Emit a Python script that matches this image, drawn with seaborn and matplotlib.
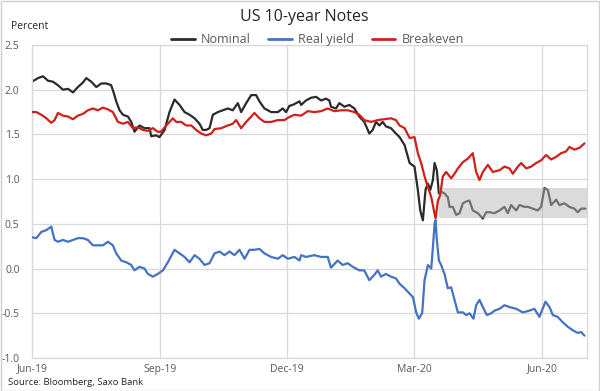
import matplotlib
matplotlib.use("Agg")
import matplotlib.pyplot as plt
import matplotlib.dates as mdates
from matplotlib.lines import Line2D
from matplotlib.patches import Rectangle
import seaborn as sns
import pandas as pd
import numpy as np

# ---- data (days since 2019-06-01, percent) ----
nominal_days = [0, 4.3, 7.9, 11.5, 15.0, 18.6, 22.2, 25.8, 29.4, 32.9, 36.5, 38.9, 42.5, 46.1, 49.7,
                53.3, 56.8, 58.7, 60.4, 62.8, 65.2, 68.8, 71.2, 73.5, 77.1, 80.7, 84.3, 85.5, 89.0,
                91.4, 95.1, 98.6, 102.2, 105.8, 109.4, 113.0, 116.6, 120.1, 122.5, 124.9, 127.3,
                129.7, 133.3, 136.9, 140.4, 144.0, 147.6, 150.0, 153.6, 157.2, 160.7, 163.1, 166.7,
                171.5, 176.3, 179.8, 182.2, 184.6, 187.0, 191.8, 193.0, 196.5, 200.1, 203.7, 207.3,
                210.9, 213.2, 214.4, 218.0, 220.4, 224.0, 227.6, 231.2, 234.7, 238.3, 241.9, 244.3,
                246.7, 249.1, 251.5, 253.8, 257.4, 261.0, 263.6, 267.2, 270.8, 274.3, 276.7, 278.4,
                280.3, 282.2, 283.9, 285.6, 287.5, 288.7, 290.3, 291.8, 293.4, 295.8, 298.2, 299.4,
                301.8, 304.2, 306.6, 309.0, 311.4, 313.7, 316.1, 319.7, 323.3, 325.7, 328.1, 331.7,
                335.3, 338.8, 341.2, 343.6, 347.2, 349.6, 353.2, 355.6, 359.1, 362.7, 365.1, 367.5,
                369.9, 372.3, 375.9, 378.2, 381.8, 385.4, 389.0, 391.4, 393.8, 396.9]
nominal_vals = [2.09, 2.13, 2.15, 2.10, 2.09, 2.05, 2.00, 2.01, 1.97, 2.03, 2.08, 2.13, 2.09, 2.03, 2.07,
                2.07, 2.05, 1.96, 1.87, 1.77, 1.72, 1.70, 1.64, 1.53, 1.60, 1.57, 1.57, 1.48, 1.49,
                1.47, 1.55, 1.75, 1.89, 1.83, 1.75, 1.72, 1.68, 1.62, 1.55, 1.55, 1.57,
                1.72, 1.75, 1.77, 1.79, 1.77, 1.85, 1.75, 1.85, 1.94, 1.94, 1.87, 1.79,
                1.75, 1.75, 1.79, 1.75, 1.82, 1.83, 1.87, 1.83, 1.88, 1.91, 1.92, 1.88,
                1.90, 1.88, 1.81, 1.79, 1.85, 1.81, 1.83, 1.79, 1.70, 1.64, 1.51, 1.55,
                1.64, 1.60, 1.64, 1.59, 1.57, 1.51, 1.47, 1.38, 1.18, 1.14, 0.88, 0.65,
                0.54, 0.88, 0.95, 0.88, 0.99, 1.18, 1.10, 0.84, 0.86, 0.84, 0.80, 0.69,
                0.69, 0.60, 0.62, 0.73, 0.75, 0.76, 0.65, 0.62, 0.56, 0.63, 0.63, 0.62,
                0.65, 0.69, 0.62, 0.71, 0.65, 0.71, 0.69, 0.69, 0.67, 0.65, 0.69, 0.90,
                0.88, 0.71, 0.77, 0.71, 0.73, 0.69, 0.67, 0.63, 0.67, 0.67]

real_days = [0, 3.1, 6.7, 10.3, 13.8, 16.2, 18.6, 22.2, 25.8, 29.4, 32.9, 36.5, 40.1, 43.7, 47.3,
             50.9, 54.4, 58.0, 60.4, 64.0, 67.6, 71.2, 73.5, 77.1, 80.7, 83.1, 86.7, 90.2, 93.9,
             97.4, 102.2, 105.8, 109.4, 113.0, 116.6, 120.1, 123.7, 127.3, 130.9, 134.5, 138.1,
             141.6, 145.2, 148.8, 152.4, 156.0, 159.5, 163.1, 166.7, 171.5, 176.3, 179.8, 183.4,
             188.2, 191.8, 193.0, 196.5, 202.5, 207.3, 212.1, 214.4, 219.2, 222.8, 226.4, 230.0,
             234.7, 238.3, 241.9, 245.5, 247.9, 250.3, 253.8, 257.4, 261.0, 263.6, 267.2, 270.8,
             273.2, 275.5, 277.4, 279.8, 281.5, 283.9, 286.3, 287.5, 288.7, 289.4, 290.3, 291.8,
             293.4, 295.8, 298.2, 300.6, 303.0, 305.4, 309.0, 311.4, 313.7, 316.6, 318.5, 320.9,
             323.3, 326.2, 329.3, 331.7, 335.3, 338.8, 342.4, 347.2, 352.0, 356.8, 360.3, 363.9,
             368.2, 371.1, 373.5, 377.0, 380.6, 384.2, 387.8, 391.4, 393.8, 396.2]
real_vals = [0.35, 0.34, 0.41, 0.43, 0.47, 0.32, 0.30, 0.32, 0.30, 0.32, 0.34, 0.34, 0.32, 0.26, 0.26,
             0.26, 0.30, 0.26, 0.17, 0.09, 0.07, 0.04, -0.02, 0.02, 0.00, -0.06, -0.09, -0.06, -0.02,
             0.07, 0.21, 0.17, 0.13, 0.07, 0.15, 0.11, 0.04, 0.06, 0.17, 0.19, 0.15,
             0.19, 0.15, 0.21, 0.11, 0.21, 0.21, 0.22, 0.17, 0.13, 0.11, 0.15, 0.11,
             0.13, 0.09, 0.15, 0.13, 0.15, 0.13, 0.13, 0.01, 0.09, 0.04, 0.06, 0.02,
             -0.02, -0.02, -0.13, -0.07, -0.02, -0.09, -0.06, -0.09, -0.11, -0.17, -0.22, -0.28,
             -0.32, -0.49, -0.56, -0.50, -0.13, 0.04, 0.00, 0.24, 0.50, 0.54, 0.32, 0.09,
             0.04, -0.06, -0.22, -0.21, -0.35, -0.49, -0.49, -0.52, -0.50, -0.56, -0.41, -0.35,
             -0.43, -0.52, -0.50, -0.47, -0.45, -0.41, -0.43, -0.45, -0.49, -0.47, -0.45, -0.54,
             -0.37, -0.43, -0.52, -0.54, -0.60, -0.65, -0.69, -0.72, -0.71, -0.75]

breakeven_days = [0, 3.1, 6.7, 10.3, 13.8, 16.2, 18.6, 22.2, 25.8, 29.4, 32.9, 36.5, 40.1, 43.7, 47.3,
                  50.9, 54.4, 58.0, 61.6, 65.2, 68.8, 72.3, 75.9, 79.5, 83.1, 86.7, 90.2, 92.6, 96.3,
                  101.0, 103.4, 107.0, 110.6, 114.2, 117.8, 121.3, 124.9, 128.5, 130.9, 135.7, 140.4,
                  144.0, 146.4, 150.0, 153.6, 157.2, 159.5, 163.1, 166.7, 171.5, 176.3, 181.0, 184.0,
                  188.2, 193.0, 197.7, 202.5, 207.3, 212.1, 216.8, 221.6, 226.4, 231.2, 234.7, 238.3,
                  243.1, 247.9, 252.6, 257.4, 261.0, 263.6, 267.2, 270.8, 274.3, 276.7, 279.1, 281.5,
                  283.9, 286.3, 288.2, 289.4, 291.1, 292.7, 294.6, 297.0, 300.6, 303.0, 305.4, 309.0,
                  312.6, 316.1, 318.5, 320.9, 323.3, 326.9, 330.5, 335.3, 338.8, 342.4, 344.8, 348.4,
                  350.8, 354.4, 357.9, 361.5, 365.1, 368.7, 372.3, 375.9, 379.4, 383.0, 385.4, 389.0,
                  392.6, 396.2]
breakeven_vals = [1.75, 1.75, 1.72, 1.68, 1.63, 1.66, 1.74, 1.71, 1.70, 1.67, 1.71, 1.73, 1.77, 1.79, 1.77,
                  1.80, 1.78, 1.75, 1.64, 1.62, 1.64, 1.57, 1.58, 1.55, 1.54, 1.57, 1.53, 1.53, 1.60,
                  1.68, 1.64, 1.64, 1.60, 1.60, 1.55, 1.51, 1.49, 1.51, 1.56, 1.57, 1.60,
                  1.62, 1.66, 1.57, 1.64, 1.70, 1.74, 1.68, 1.64, 1.64, 1.66, 1.66, 1.69,
                  1.72, 1.71, 1.76, 1.75, 1.76, 1.79, 1.76, 1.77, 1.77, 1.75, 1.72, 1.66,
                  1.64, 1.66, 1.67, 1.68, 1.66, 1.60, 1.57, 1.46, 1.47, 1.29, 1.18, 1.03,
                  0.91, 0.80, 0.65, 0.56, 0.76, 0.82, 1.03, 1.08, 1.01, 1.06, 1.12, 1.19,
                  1.23, 1.29, 1.08, 0.99, 1.08, 1.16, 1.08, 1.10, 1.14, 1.12, 1.06, 1.14,
                  1.18, 1.12, 1.14, 1.18, 1.21, 1.27, 1.22, 1.25, 1.29, 1.31, 1.36, 1.33,
                  1.35, 1.40]

series_names = ["Nominal", "Real yield", "Breakeven"]
series_colors = ["#2b2b2b", "#4472C4", "#D0201A"]
tick_months = ["2019-06-01", "2019-09-01", "2019-12-01", "2020-03-01", "2020-06-01"]
tick_labels = ["Jun-19", "Sep-19", "Dec-19", "Mar-20", "Jun-20"]
y_ticks = [-1.0, -0.5, 0.0, 0.5, 1.0, 1.5, 2.0, 2.5]
band_start, band_end = "2020-03-19", "2020-07-03"
band_low, band_high = 0.57, 0.90

base = pd.Timestamp("2019-06-01")
def to_df(days, vals, name):
    return pd.DataFrame({"date": base + pd.to_timedelta(days, unit="D"), "value": vals, "series": name})

frames = [to_df(nominal_days, nominal_vals, "Nominal"),
          to_df(real_days, real_vals, "Real yield"),
          to_df(breakeven_days, breakeven_vals, "Breakeven")]

sns.set_theme(style="white")
plt.rcParams["font.family"] = ["Open Sans", "DejaVu Sans"]
plt.rcParams["axes.unicode_minus"] = False

fig = plt.figure(figsize=(6.0, 3.91), dpi=100)
ax = fig.add_axes([32/600, 1-358/391, (587-32)/600, (358-45)/391])

zorders = [2, 4, 4]
for df, color, z in zip(frames, series_colors, zorders):
    sns.lineplot(data=df, x="date", y="value", color=color, linewidth=1.6, ax=ax, zorder=z, legend=False)

x0 = mdates.date2num(pd.Timestamp(band_start))
x1 = mdates.date2num(pd.Timestamp(band_end))
ax.add_patch(Rectangle((x0, band_low), x1 - x0, band_high - band_low,
                       facecolor="#b8b8b8", alpha=0.5, edgecolor="none", zorder=3))

ax.set_xlim(pd.Timestamp("2019-06-01"), pd.Timestamp("2020-07-03"))
ax.set_ylim(-1.0, 2.5)
ax.set_yticks(y_ticks)
ax.set_yticklabels([f"{v:.1f}" for v in y_ticks])
ax.set_xticks([pd.Timestamp(t) for t in tick_months])
ax.set_xticklabels(tick_labels)
ax.set_xlabel("")
ax.set_ylabel("")
ax.grid(True, color="#d9d9d9", linewidth=0.9)
ax.set_axisbelow(True)
for s in ax.spines.values():
    s.set_color("#d9d9d9")
    s.set_linewidth(0.9)
ax.tick_params(axis="both", length=0, labelsize=7.5, labelcolor="#595959")
ax.tick_params(axis="y", pad=9)
ax.tick_params(axis="x", pad=4)

fig.text(0.507, 0.957, "US 10-year Notes", ha="center", va="center", fontsize=11.5, color="#262626")
fig.text(0.018, 0.933, "Percent", ha="left", va="center", fontsize=7.5, color="#262626")
fig.text(0.014, 0.022, "Source: Bloomberg, Saxo Bank", ha="left", va="center", fontsize=6.8, color="#262626")

handles = [Line2D([0], [0], color=c, linewidth=2) for c in series_colors]
fig.legend(handles, series_names, loc="center", bbox_to_anchor=(0.529, 0.898), ncol=3,
           frameon=False, fontsize=9, handlelength=1.9, handletextpad=0.5, columnspacing=1.4,
           labelcolor="#595959")

fig.patches.append(Rectangle((0.001, 0.001), 0.998, 0.997, transform=fig.transFigure,
                             fill=False, edgecolor="#d0d0d0", linewidth=1))

fig.savefig("out.png", dpi=100)
